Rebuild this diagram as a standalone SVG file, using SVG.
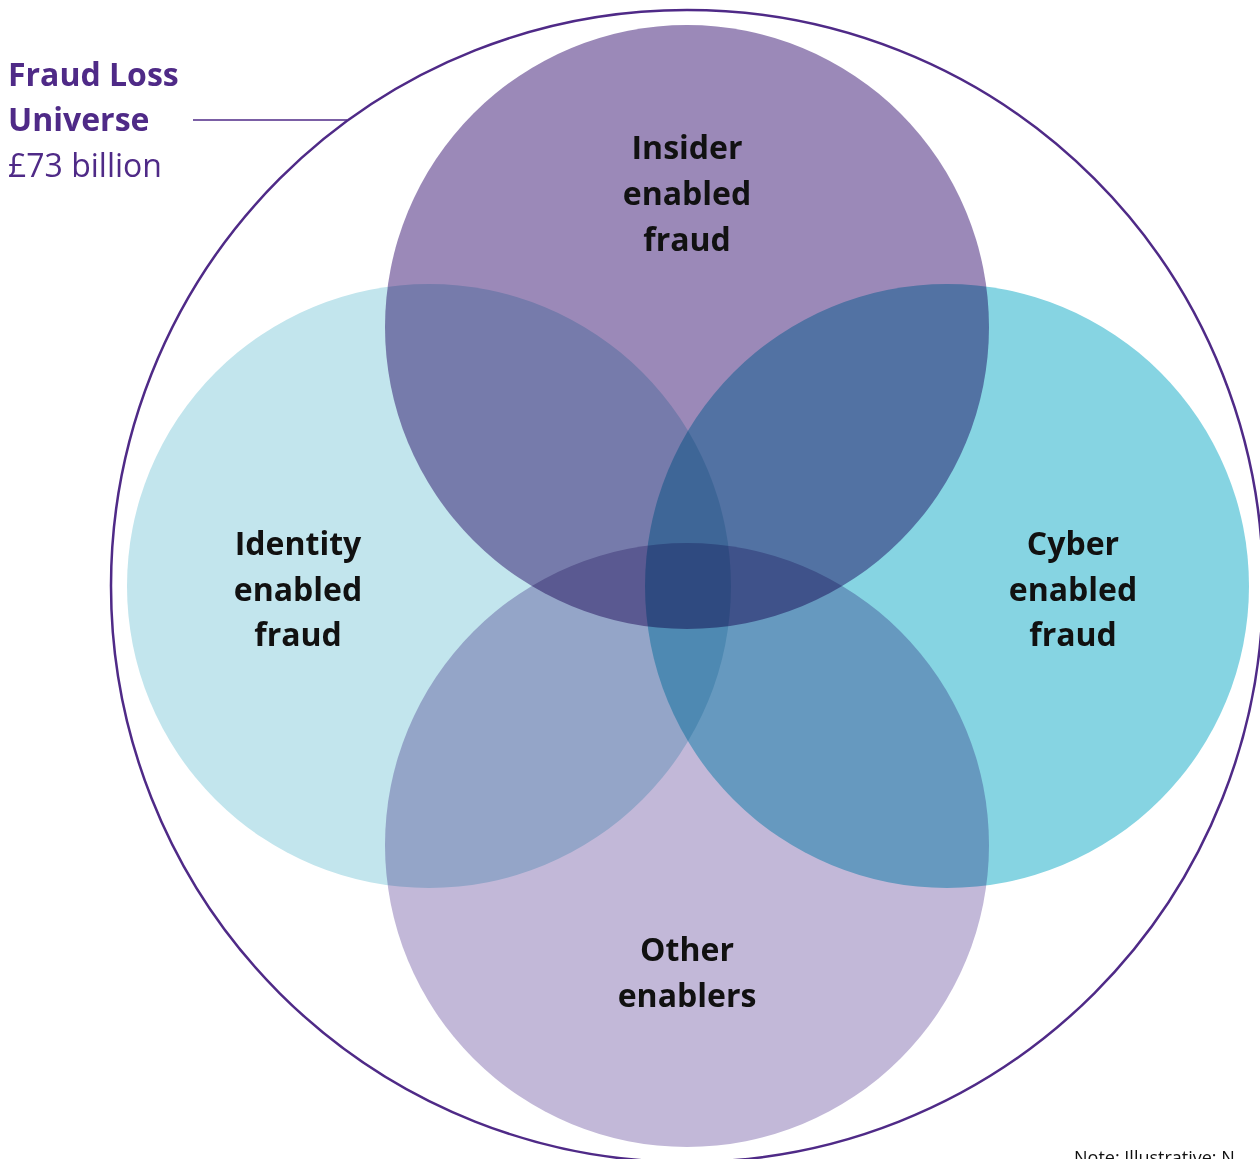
<svg xmlns="http://www.w3.org/2000/svg" width="1260" height="1159" viewBox="0 0 1260 1159">
  <style>
    .set { mix-blend-mode: multiply; }
    .lbl { font-family: "Open Sans", "Noto Sans", sans-serif; font-weight: 700; font-size: 32px; fill: #111111; text-anchor: middle; }
    .title { font-family: "Open Sans", "Noto Sans", sans-serif; font-size: 32px; fill: #4f2a87; }
    .note { font-family: "Open Sans", "Noto Sans", sans-serif; font-size: 18px; fill: #111111; }
  </style>
  <rect width="1260" height="1159" fill="#ffffff"/>

  <!-- universe boundary -->
  <g id="universe">
    <circle cx="687" cy="586" r="576" fill="none" stroke="#4f2a87" stroke-width="2.5"/>
  </g>

  <!-- the four overlapping sets, multiplied so overlaps darken -->
  <g id="sets" style="isolation:isolate">
    <g id="insider"><circle class="set" cx="687" cy="327" r="302" fill="#9b89b8"/></g>
    <g id="identity"><circle class="set" cx="429" cy="586" r="302" fill="#c2e5ed"/></g>
    <g id="cyber"><circle class="set" cx="947" cy="586" r="302" fill="#86d4e2"/></g>
    <g id="other"><circle class="set" cx="687" cy="845" r="302" fill="#c2b8d8"/></g>
  </g>

  <!-- leader from title to boundary -->
  <g id="connectors">
    <line x1="193" y1="120" x2="347" y2="120" stroke="#4f2a87" stroke-width="1.5"/>
  </g>

  <g id="title">
    <text class="title" x="8" y="86" font-weight="700">Fraud Loss</text>
    <text class="title" x="8" y="131" font-weight="700">Universe</text>
    <text class="title" x="8" y="177">£73 billion</text>
  </g>

  <g id="insider-label">
    <text class="lbl" x="687" y="159">Insider</text>
    <text class="lbl" x="687" y="205">enabled</text>
    <text class="lbl" x="687" y="251">fraud</text>
  </g>
  <g id="identity-label">
    <text class="lbl" x="298" y="555">Identity</text>
    <text class="lbl" x="298" y="601">enabled</text>
    <text class="lbl" x="298" y="646">fraud</text>
  </g>
  <g id="cyber-label">
    <text class="lbl" x="1073" y="555">Cyber</text>
    <text class="lbl" x="1073" y="601">enabled</text>
    <text class="lbl" x="1073" y="646">fraud</text>
  </g>
  <g id="other-label">
    <text class="lbl" x="687" y="961">Other</text>
    <text class="lbl" x="687" y="1007">enablers</text>
  </g>

  <g id="note">
    <text class="note" x="1074" y="1164">Note: Illustrative; N</text>
  </g>
</svg>
